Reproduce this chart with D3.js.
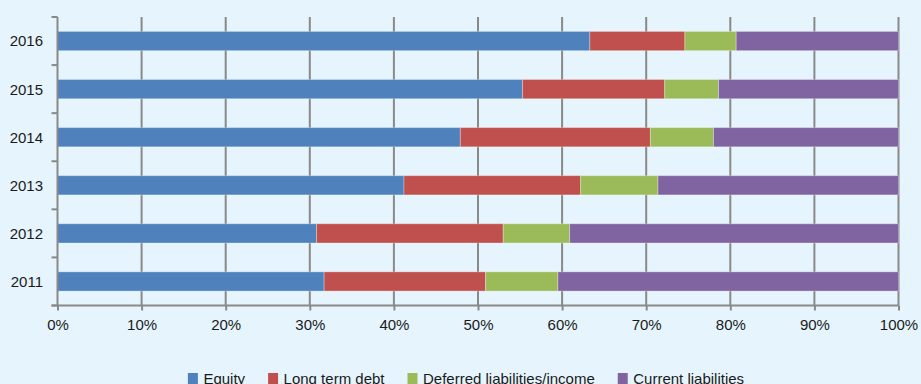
<!DOCTYPE html>
<html>
<head>
<meta charset="utf-8">
<script src="https://cdn.jsdelivr.net/npm/d3@7/dist/d3.min.js"></script>
<style>
  html, body { margin: 0; padding: 0; background: #e6f5fd; }
  svg { display: block; font-family: "Liberation Sans", Arial, Helvetica, sans-serif; }
</style>
</head>
<body>
<svg id="chart" width="921" height="384"></svg>
<script>
// Capital structure shares by year (percent of total)
const years = ["2016", "2015", "2014", "2013", "2012", "2011"];
const seriesNames = ["Equity", "Long term debt", "Deferred liabilities/income", "Current liabilities"];
const equity     = [63.3, 55.3, 47.9, 41.2, 30.8, 31.7];
const longDebt   = [11.3, 16.9, 22.6, 21.0, 22.2, 19.2];
const deferred   = [6.1, 6.4, 7.5, 9.2, 7.9, 8.6];
const current    = [19.3, 21.4, 22.0, 28.6, 39.1, 40.5];
const colors = ["#4f81bd", "#c0504d", "#9bbb59", "#8064a2"];
const tickValues = [0, 10, 20, 30, 40, 50, 60, 70, 80, 90, 100];

const rows = years.map((y, i) => ({
  year: y,
  "Equity": equity[i],
  "Long term debt": longDebt[i],
  "Deferred liabilities/income": deferred[i],
  "Current liabilities": current[i]
}));

const svg = d3.select("#chart");
const plotLeft = 57.5, plotRight = 898.5, plotTop = 17, plotBottom = 305.5;
const gridColor = "#898989";

const x = d3.scaleLinear().domain([0, 100]).range([plotLeft, plotRight]);
const y = d3.scaleBand().domain(years).range([plotTop, plotBottom])
  .paddingInner(0.6).paddingOuter(0.3);

// vertical gridlines
svg.append("g").selectAll("line").data(tickValues.slice(1)).join("line")
  .attr("x1", d => x(d)).attr("x2", d => x(d))
  .attr("y1", plotTop).attr("y2", plotBottom)
  .attr("stroke", gridColor).attr("stroke-width", 2);

// stacked bars
const stack = d3.stack().keys(seriesNames);
const layers = stack(rows);
svg.append("g").selectAll("g").data(layers).join("g")
  .attr("fill", (d, i) => colors[i])
  .selectAll("rect").data(d => d).join("rect")
  .attr("x", d => x(d[0]))
  .attr("width", d => x(d[1]) - x(d[0]))
  .attr("y", d => y(d.data.year))
  .attr("height", y.bandwidth())
  .attr("stroke", "rgba(255,255,255,0.3)")
  .attr("stroke-width", 1);

// bottom axis
const xAxis = d3.axisBottom(x).tickValues(tickValues).tickFormat(d => d + "%")
  .tickSize(5).tickSizeOuter(0).tickPadding(9);
const gx = svg.append("g").attr("transform", `translate(0,${plotBottom})`).call(xAxis);
gx.select(".domain").attr("stroke", gridColor).attr("stroke-width", 2)
  .attr("d", `M${plotLeft - 6},0H${plotRight}`);
gx.selectAll(".tick line").attr("stroke", gridColor).attr("stroke-width", 2);
gx.selectAll(".tick text").attr("fill", "#1a1a1a").style("font-size", "15px");

// left axis with ticks at category boundaries
const gy = svg.append("g");
gy.append("line").attr("x1", plotLeft).attr("x2", plotLeft).attr("y1", plotTop).attr("y2", plotBottom)
  .attr("stroke", gridColor).attr("stroke-width", 2);
const boundaries = d3.range(years.length + 1).map(i => plotTop + i * y.step());
gy.selectAll(".bt").data(boundaries).join("line")
  .attr("x1", plotLeft - 6).attr("x2", plotLeft).attr("y1", d => d).attr("y2", d => d)
  .attr("stroke", gridColor).attr("stroke-width", 2);
gy.selectAll("text").data(years).join("text")
  .attr("x", 43).attr("y", d => y(d) + y.bandwidth() / 2)
  .attr("dy", "0.36em").attr("text-anchor", "end")
  .attr("fill", "#1a1a1a").style("font-size", "15px")
  .text(d => d);

// legend
const legend = svg.append("g");
const items = legend.selectAll("g").data(seriesNames).join("g");
items.append("rect").attr("width", 10).attr("height", 12).attr("y", 373)
  .attr("fill", d => colors[seriesNames.indexOf(d)]);
items.append("text").attr("x", 15.5).attr("y", 384)
  .attr("fill", "#1a1a1a").style("font-size", "15px").text(d => d);
let cursor = 0;
const gap = 23;
items.each(function () {
  const w = 15.5 + d3.select(this).select("text").node().getComputedTextLength();
  d3.select(this).attr("transform", `translate(${cursor},0)`);
  cursor += w + gap;
});
const total = cursor - gap;
legend.attr("transform", `translate(${466 - total / 2},0)`);
</script>
</body>
</html>
